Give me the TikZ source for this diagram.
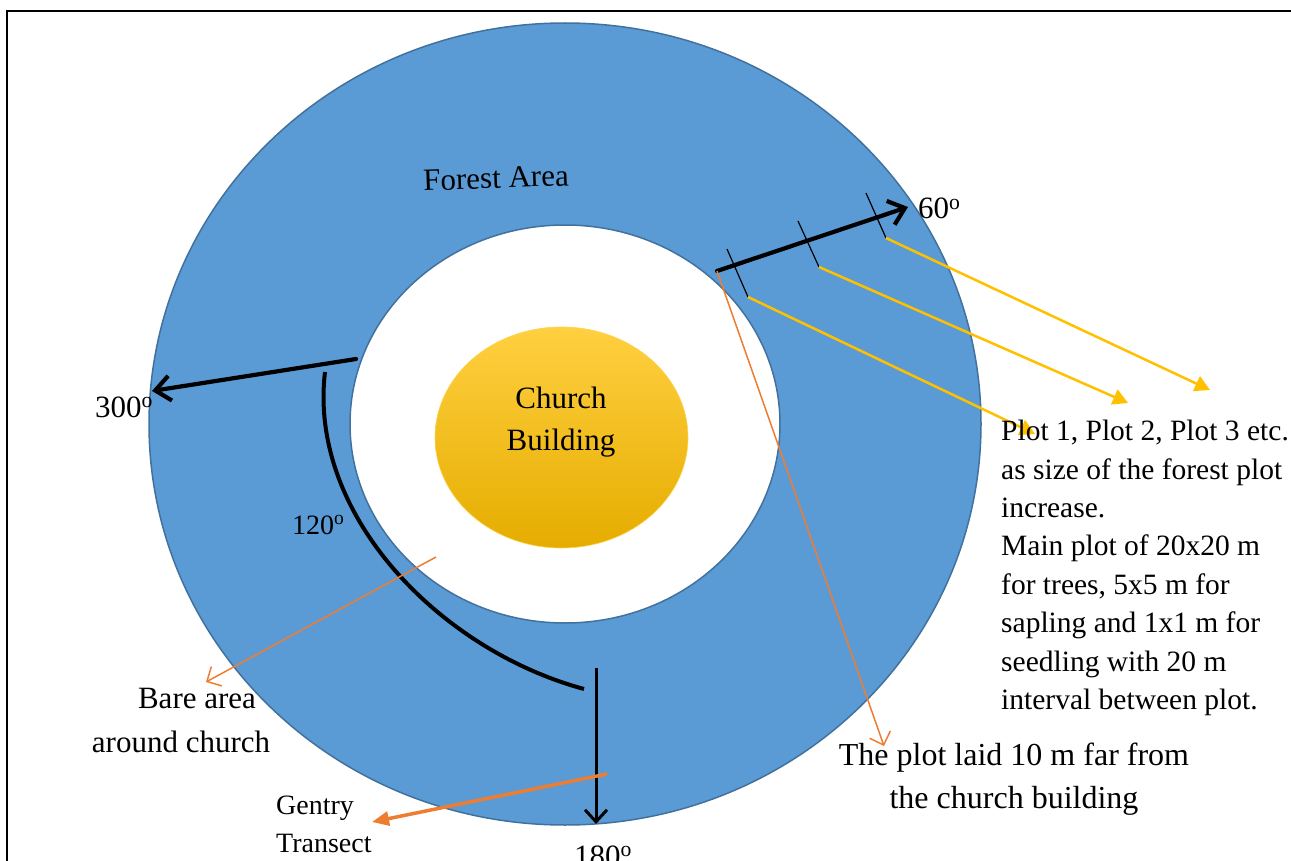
\documentclass[tikz,border=0pt]{standalone}
\usepackage{fontspec}
\setmainfont{Liberation Serif}
\usetikzlibrary{arrows.meta,shapes.geometric}
\definecolor{forest}{HTML}{5B9BD5}
\definecolor{forestedge}{HTML}{41719C}
\definecolor{gold}{HTML}{FFC000}
\definecolor{orng}{HTML}{ED7D31}
\begin{document}
\begin{tikzpicture}[x=1pt,y=-1pt,
  lbl/.style={font=\fontsize{31}{38.7}\selectfont, inner sep=0pt, text=black},
  smalllbl/.style={font=\fontsize{28}{38}\selectfont, inner sep=0pt, text=black},
  blocklbl/.style={font=\fontsize{29.5}{38.4}\selectfont, inner sep=0pt, text=black},
  blkarrow/.style={line width=4.2pt, line cap=round, -{Straight Barb[length=15pt,width=25pt,line width=4.2pt]}},
  blkthin/.style={line width=3pt, -{Straight Barb[length=12pt,width=22pt,line width=3pt]}},
  tickmark/.style={line width=1.2pt},
  goldarrow/.style={draw=gold, line width=2.5pt, -{Triangle[length=15pt,width=16pt]}},
  orngthin/.style={draw=orng, line width=1.5pt, -{Straight Barb[length=11pt,width=22pt,line width=1.5pt]}},
  orngthick/.style={draw=orng, line width=3.5pt, -{Triangle[length=17pt,width=14pt]}}
]
\useasboundingbox (0,0) rectangle (1291,861);
% frame
\draw[line width=2.5pt] (7,865) -- (7,11) -- (1295,11);
% forest ring
\node (forest) [ellipse, draw=forestedge, fill=forest, line width=1.5pt,
  minimum width=832pt, minimum height=802pt, inner sep=0pt] at (565,424) {};
\node (bare) [ellipse, draw=forestedge, fill=white, line width=1.5pt,
  minimum width=430pt, minimum height=398pt, inner sep=0pt] at (565,424) {};
\node (church) [ellipse, draw=gold!70, line width=0.6pt,
  top color=gold!75!white, middle color=gold, bottom color=gold!90!black,
  minimum width=253pt, minimum height=221pt, inner sep=0pt] at (561.5,437.5) {};
\node (churchtext) [lbl, align=center] at (561,422) {Church\\[4pt]Building};
\node (forestlbl) [lbl, rotate=2] at (496,178) {Forest Area};

% 60 degree transect with plots
\coordinate (s60) at (717,271);
\coordinate (e60) at (908,207);
\draw[blkarrow] (s60) -- (e60);
\node (lbl60) [lbl, anchor=base west] at (918,219) {60\textsuperscript{o}};
\coordinate (t1a) at (727,249); \coordinate (t1b) at (748,297);
\coordinate (t2a) at (798,221); \coordinate (t2b) at (819,267);
\coordinate (t3a) at (866,193); \coordinate (t3b) at (886,238);
\draw[tickmark] (t1a) -- (t1b);
\draw[tickmark] (t2a) -- (t2b);
\draw[tickmark] (t3a) -- (t3b);
\coordinate (p1) at (1035,434);
\coordinate (p2) at (1128,403);
\coordinate (p3) at (1210,390);
\draw[goldarrow] (t1b) -- (p1);
\draw[goldarrow] (t2b) -- (p2);
\draw[goldarrow] (t3b) -- (p3);
\node (plots) [blocklbl, anchor=north west, align=left] at (1001,420)
  {Plot 1, Plot 2, Plot 3 etc.\\as size of the forest plot\\increase.\\Main plot of 20x20 m\\for trees, 5x5 m for\\sapling and 1x1 m for\\seedling with 20 m\\interval between plot.};

% 10 m note
\coordinate (dist) at (884,746);
\draw[orngthin] (s60) -- (dist);
\node (distlbl) [lbl, font=\fontsize{32}{38.7}\selectfont, align=center, anchor=north] at (1014,743)
  {The plot laid 10 m far from\\[4pt]the church building};

% 300 degree transect
\coordinate (s300) at (356,359);
\coordinate (e300) at (152,391);
\draw[blkarrow] (s300) -- (e300);
\node (lbl300) [lbl, anchor=base west] at (95,417) {300\textsuperscript{o}};

% 120 degree arc
\coordinate (arcs) at (325,372);
\coordinate (arce) at (584,689);
\draw[line width=4pt] (arcs) .. controls (308,515) and (440,650) .. (arce);
\node (lbl120) [smalllbl, anchor=base west] at (292,534) {120\textsuperscript{o}};

% 180 degree transect
\coordinate (s180) at (596,668);
\coordinate (e180) at (596,824);
\draw[blkthin] (s180) -- (e180);
\node (lbl180) [lbl, anchor=base west] at (574,866) {180\textsuperscript{o}};

% gentry transect
\coordinate (gs) at (607,774);
\coordinate (ge) at (372,822);
\draw[orngthick] (gs) -- (ge);
\node (gentry) [smalllbl, align=left, anchor=base west] at (276,814) {Gentry};
\node (transect) [smalllbl, align=left, anchor=base west] at (276,852) {Transect};

% bare area
\coordinate (bs) at (436,557);
\coordinate (be) at (206,682);
\draw[orngthin] (bs) -- (be);
\node (barelbl1) [lbl] at (197,698) {Bare area};
\node (barelbl2) [lbl] at (181,742) {around church};
\end{tikzpicture}
\end{document}
